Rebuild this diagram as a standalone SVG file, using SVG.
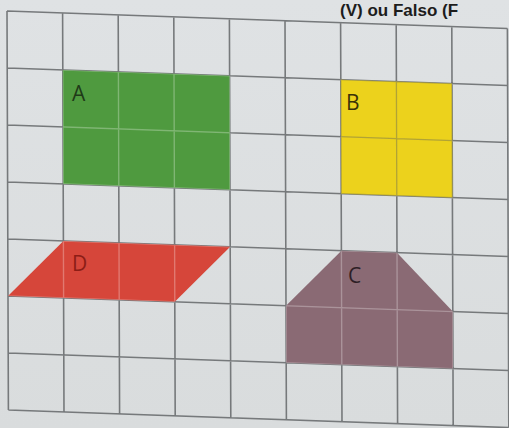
<svg xmlns="http://www.w3.org/2000/svg" width="509" height="428" viewBox="0 0 509 428">
<style>
.grid{fill:none;stroke:#76797b;stroke-width:1.6}
.inner{fill:none;stroke:#ffffff;stroke-opacity:0.28;stroke-width:1.4}
.innerDark{fill:none;stroke:#6b6a55;stroke-opacity:0.45;stroke-width:1.3}
.lbl{font-family:"Open Sans","Liberation Sans",sans-serif;font-size:21px}
</style>
<defs>
<linearGradient id="bg" x1="0" y1="0" x2="0" y2="1">
<stop offset="0" stop-color="#dfe2e4"/>
<stop offset="1" stop-color="#d9dcdd"/>
</linearGradient>
<clipPath id="shapesClip">
<polygon transform="matrix(55.6 1.95 0.2 57 7 11)" points="1,1 4,1 4,3 1,3"/>
<polygon transform="matrix(55.6 1.95 0.2 57 7 11)" points="1,4 4,4 3,5 0,5"/>
<polygon transform="matrix(55.6 1.95 0.2 57 7 11)" points="6,4 7,4 8,5 8,6 5,6 5,5"/>
</clipPath>
<clipPath id="clipB">
<polygon transform="matrix(55.6 1.95 0.2 57 7 11)" points="6,1 8,1 8,3 6,3"/>
</clipPath>
<path id="gridPath" vector-effect="non-scaling-stroke" d="M0 0V7M1 0V7M2 0V7M3 0V7M4 0V7M5 0V7M6 0V7M7 0V7M8 0V7M9 0V7M0 0H9M0 1H9M0 2H9M0 3H9M0 4H9M0 5H9M0 6H9M0 7H9"/>
</defs>
<rect width="509" height="428" fill="url(#bg)"/>
<text x="340" y="16" font-family="Liberation Sans, sans-serif" font-size="17" font-weight="bold" fill="#1c1c1c">(V) ou Falso (F</text>
<g id="grid" transform="matrix(55.6 1.95 0.2 57 7 11)">
<use href="#gridPath" class="grid"/>
</g>
<g id="shapeA">
<polygon transform="matrix(55.6 1.95 0.2 57 7 11)" points="1,1 4,1 4,3 1,3" fill="#4f9a3f"/>
<text class="lbl" x="72" y="101" fill="#1f3a18">A</text>
</g>
<g id="shapeB">
<polygon transform="matrix(55.6 1.95 0.2 57 7 11)" points="6,1 8,1 8,3 6,3" fill="#ecd21c"/>
<text class="lbl" x="346" y="110" fill="#3a3208">B</text>
</g>
<g id="shapeD">
<polygon transform="matrix(55.6 1.95 0.2 57 7 11)" points="1,4 4,4 3,5 0,5" fill="#d6463a"/>
<text class="lbl" x="72" y="271" fill="#8c1d16">D</text>
</g>
<g id="shapeC">
<polygon transform="matrix(55.6 1.95 0.2 57 7 11)" points="6,4 7,4 8,5 8,6 5,6 5,5" fill="#8a6a74"/>
<text class="lbl" x="348" y="283" fill="#2e1f26">C</text>
</g>
<g clip-path="url(#shapesClip)">
<g transform="matrix(55.6 1.95 0.2 57 7 11)">
<use href="#gridPath" class="inner"/>
</g>
</g>
<g clip-path="url(#clipB)">
<g transform="matrix(55.6 1.95 0.2 57 7 11)">
<use href="#gridPath" class="innerDark"/>
</g>
</g>
</svg>
